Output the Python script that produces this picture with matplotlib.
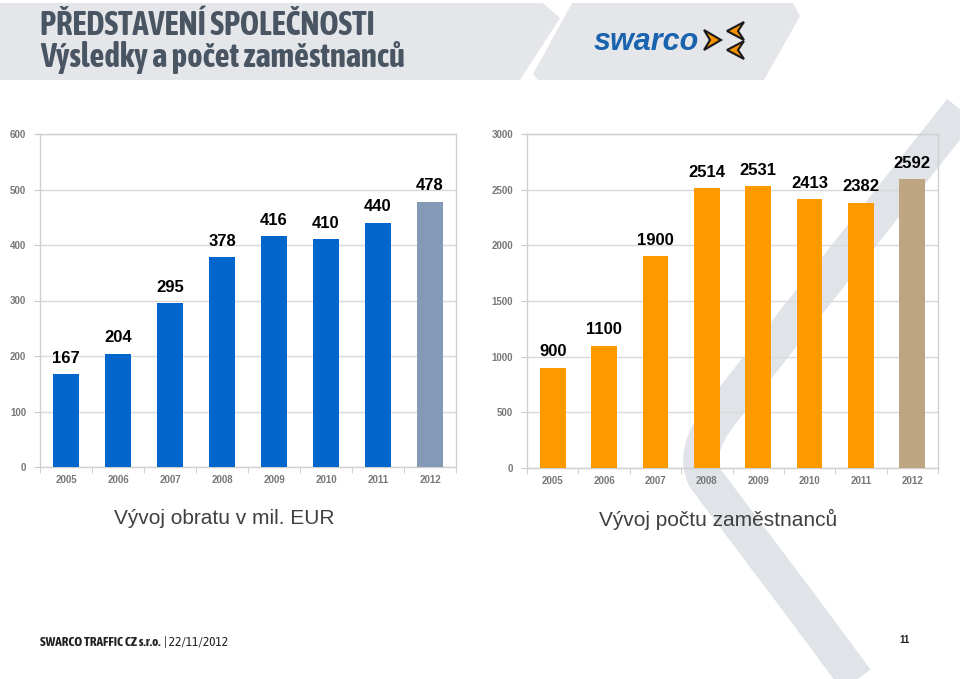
import matplotlib
matplotlib.use("Agg")
import matplotlib.pyplot as plt
from matplotlib.patches import Polygon, PathPatch
from matplotlib.path import Path
import matplotlib.font_manager as fm

# ---------------- data ----------------
years = ["2005", "2006", "2007", "2008", "2009", "2010", "2011", "2012"]
turnover = [167, 204, 295, 378, 416, 410, 440, 478]
employees = [900, 1100, 1900, 2514, 2531, 2413, 2382, 2592]
turnover_ticks = [0, 100, 200, 300, 400, 500, 600]
employee_ticks = [0, 500, 1000, 1500, 2000, 2500, 3000]
title1 = "PŘEDSTAVENÍ SPOLEČNOSTI"
title2 = "Výsledky a počet zaměstnanců"
caption_left = "Vývoj obratu v mil. EUR"
caption_right = "Vývoj počtu zaměstnanců"
footer_company = "SWARCO TRAFFIC CZ s.r.o."
footer_date = "| 22/11/2012"
page_no = "11"

W, H = 960, 679
fig = plt.figure(figsize=(W / 100, H / 100), dpi=100)
fig.patch.set_facecolor("white")
renderer = fig.canvas.get_renderer()


def _is_bold(f):
    w = f.weight
    if isinstance(w, str):
        return w in ("bold", "heavy", "black", "extra bold", "demibold", "semibold")
    return w >= 600


# pick a narrow bold font if one is installed
narrow_family, narrow_stretch = "Liberation Sans", "normal"
cands = [f for f in fm.fontManager.ttflist
         if ("Narrow" in f.name or "Condensed" in f.name) and _is_bold(f)
         and f.style == "normal"]
pref = [f for f in cands if "Liberation" in f.name] or \
       [f for f in cands if "Condensed" in f.name and "Light" not in f.name] or cands
if pref:
    narrow_family = pref[0].name
else:
    for f in fm.fontManager.ttflist:
        if f.name == "DejaVu Sans" and str(f.stretch) in ("condensed", "semi-condensed") and _is_bold(f):
            narrow_family, narrow_stretch = "DejaVu Sans", "condensed"
            break
sans = ["Liberation Sans", "DejaVu Sans"]

# background drawing layer in pixel coords
bg = fig.add_axes([0, 0, 1, 1], zorder=0)
bg.set_xlim(0, W)
bg.set_ylim(H, 0)
bg.axis("off")


def fit_text(x, y, s, width, size, maxsize, **kw):
    t = bg.text(x, y, s, fontsize=size, **kw)
    w = t.get_window_extent(renderer).width
    t.set_fontsize(min(size * width / w, maxsize))
    return t


band = "#E4E6E9"
bg.add_patch(Polygon([(0, 3), (543, 3), (560, 18), (520, 80), (0, 80)],
                     closed=True, fc=band, ec="none"))
bg.add_patch(Polygon([(572, 3), (793, 3), (800, 16), (764, 80), (538, 80), (533, 74)],
                     closed=True, fc=band, ec="none"))

# swoosh
verts = [(1040, 10), (720, 415), (692, 452), (705, 478), (800, 604), (880, 712)]
codes = [Path.MOVETO, Path.LINETO, Path.CURVE3, Path.CURVE3, Path.LINETO, Path.LINETO]
bg.add_patch(PathPatch(Path(verts, codes), fc="none", ec="#E0E3E7", lw=25.5,
                       capstyle="butt", joinstyle="round"))

# titles
tkw = dict(fontweight="bold", color="#4A5563", family=[narrow_family, "DejaVu Sans"],
           fontstretch=narrow_stretch, ha="left")
fit_text(40, 35, title1, 388, 20, 23.5, va="baseline", **tkw)
fit_text(40, 67, title2, 392, 20, 23.5, va="baseline", **tkw)

# logo
bg.text(594, 50, "swarco", fontsize=22, fontweight="bold", fontstyle="italic",
        color="#1A64AF", family=sans, va="baseline", ha="left")
bg.add_patch(Polygon([(704, 30), (721, 40), (704, 50), (710, 40)], closed=True,
                     fc="#F39200", ec="#1a1a1a", lw=1.5))
bg.add_patch(Polygon([(744, 22), (727, 31), (744, 40), (738, 31)], closed=True,
                     fc="#F39200", ec="#1a1a1a", lw=1.5))
bg.add_patch(Polygon([(744, 41), (727, 50), (744, 59), (738, 50)], closed=True,
                     fc="#F39200", ec="#1a1a1a", lw=1.5))

# captions
bg.text(224, 519, caption_left, fontsize=15, color="#404040", family=sans,
        ha="center", va="center")
bg.text(718, 519, caption_right, fontsize=15, color="#404040", family=sans,
        ha="center", va="center")

# footer
fkw = dict(color="#222222", family=[narrow_family, "DejaVu Sans"],
           fontstretch=narrow_stretch, va="center", ha="left")
t1 = fit_text(40, 643, footer_company, 126, 8.5, 9.5, fontweight="bold", **fkw)
x_end = t1.get_window_extent(renderer).x1
bg.text(x_end + 3, 643, footer_date, fontsize=t1.get_fontsize(), **fkw)
bg.text(905, 640, page_no, fontsize=7, fontweight="bold", color="#222222",
        family=sans, va="center", ha="center")


def bar_chart(rect, values, ticks, colors):
    ax = fig.add_axes(rect, zorder=2)
    ax.patch.set_alpha(0)
    x = list(range(len(values)))
    ax.bar(x, values, width=0.5, color=colors, zorder=3)
    ax.set_xlim(-0.5, len(values) - 0.5)
    ax.set_ylim(ticks[0], ticks[-1])
    ax.set_yticks(ticks)
    ax.set_yticklabels([str(t) for t in ticks])
    ax.set_xticks(x)
    ax.set_xticklabels(years)
    ax.set_xticks([i - 0.5 for i in range(len(values) + 1)], minor=True)
    ax.tick_params(axis="x", which="major", length=0, pad=6, labelsize=7,
                   labelcolor="#777777")
    ax.tick_params(axis="x", which="minor", length=4, color="#C8C8C8")
    ax.tick_params(axis="y", length=4, color="#C8C8C8", pad=6, labelsize=7,
                   labelcolor="#777777")
    for lab in ax.get_xticklabels() + ax.get_yticklabels():
        lab.set_family(sans)
        lab.set_fontweight("bold")
    ax.yaxis.grid(True, color="#D9D9D9", lw=1)
    ax.set_axisbelow(True)
    for s in ax.spines.values():
        s.set_color("#D0D0D0")
        s.set_linewidth(1)
    for xi, v in zip(x, values):
        ax.annotate(str(v), (xi, v), xytext=(0, 6), textcoords="offset points",
                    ha="center", va="bottom", fontsize=12, fontweight="bold",
                    color="black", family=sans)
    return ax


bar_chart([40 / W, 1 - 467 / H, 416 / W, 333 / H], turnover, turnover_ticks,
          ["#0066CC"] * 7 + ["#8399B5"])
bar_chart([527 / W, 1 - 468 / H, 411 / W, 334 / H], employees, employee_ticks,
          ["#FF9900"] * 7 + ["#BFA682"])

fig.savefig("out.png", dpi=100)
